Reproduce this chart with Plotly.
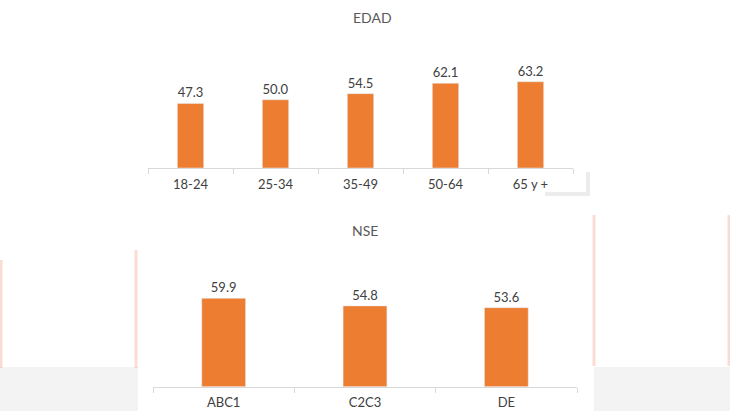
import plotly.graph_objects as go

# EDAD
edad_cats = ["18-24", "25-34", "35-49", "50-64", "65 y +"]
edad_vals = [47.3, 50.0, 54.5, 62.1, 63.2]

# NSE
nse_cats = ["ABC1", "C2C3", "DE"]
nse_vals = [59.9, 54.8, 53.6]

orange = "#ED7D31"
txt = "#404040"
font_family = "Lato, 'Open Sans', sans-serif"

W, H = 730, 411


def px(x):
    return x / W


def py(y):
    return 1 - y / H


fig = go.Figure()

fig.add_trace(go.Bar(
    x=edad_cats, y=edad_vals, marker_color=orange, width=0.31,
    texttemplate="%{y:.1f}", textposition="outside", cliponaxis=False,
    textfont=dict(size=13, color=txt), xaxis="x", yaxis="y",
))
fig.add_trace(go.Bar(
    x=nse_cats, y=nse_vals, marker_color=orange, width=0.31,
    texttemplate="%{y:.1f}", textposition="outside", cliponaxis=False,
    textfont=dict(size=13, color=txt), xaxis="x2", yaxis="y2",
))

xax = dict(
    type="category", showgrid=False, zeroline=False,
    showline=True, linecolor="#d9d9d9", linewidth=1,
    ticks="outside", tickson="boundaries", ticklen=5, tickcolor="#d9d9d9",
    ticklabelstandoff=4,
    tickfont=dict(size=13, color=txt), fixedrange=True,
)
yax = dict(visible=False, showgrid=False, zeroline=False, fixedrange=True)

blush = "rgba(240,130,100,0.28)"

# background decoration (blurred slide behind the charts)
shapes = [
    dict(type="rect", xref="paper", yref="paper", x0=0, x1=px(138), y0=0, y1=py(367),
         fillcolor="#f3f3f3", line_width=0, layer="below"),
    dict(type="rect", xref="paper", yref="paper", x0=px(594), x1=1, y0=0, y1=py(367),
         fillcolor="#f3f3f3", line_width=0, layer="below"),
    dict(type="line", xref="paper", yref="paper", x0=px(136), x1=px(136),
         y0=py(368), y1=py(250), line=dict(color=blush, width=3), layer="below"),
    dict(type="line", xref="paper", yref="paper", x0=px(594), x1=px(594),
         y0=py(366), y1=py(215), line=dict(color=blush, width=3), layer="below"),
    dict(type="line", xref="paper", yref="paper", x0=px(1), x1=px(1),
         y0=py(368), y1=py(260), line=dict(color=blush, width=3), layer="below"),
    dict(type="line", xref="paper", yref="paper", x0=px(729), x1=px(729),
         y0=py(366), y1=py(215), line=dict(color=blush, width=3), layer="below"),
    # shadow of the upper chart box
    dict(type="rect", xref="paper", yref="paper", x0=px(545), x1=px(590),
         y0=py(196), y1=py(192), fillcolor="#ececec", line_width=0, layer="below"),
    dict(type="rect", xref="paper", yref="paper", x0=px(586), x1=px(590),
         y0=py(196), y1=py(172), fillcolor="#ececec", line_width=0, layer="below"),
]

fig.update_layout(
    width=W, height=H,
    margin=dict(l=0, r=0, t=0, b=0),
    paper_bgcolor="white", plot_bgcolor="rgba(0,0,0,0)",
    font=dict(family=font_family, color=txt),
    showlegend=False,
    xaxis=dict(xax, domain=[px(148), px(573)], anchor="y"),
    yaxis=dict(yax, domain=[py(168), py(40)], range=[0, 93.8], anchor="x"),
    xaxis2=dict(xax, domain=[px(153), px(577)], anchor="y2"),
    yaxis2=dict(yax, domain=[py(386.7), py(250)], range=[0, 92.7], anchor="x2"),
    shapes=shapes,
    annotations=[
        dict(text="EDAD", x=px(372), y=py(18), xref="paper", yref="paper",
             xanchor="center", yanchor="middle",
             showarrow=False, font=dict(size=14, color="#595959")),
        dict(text="NSE", x=px(365), y=py(230), xref="paper", yref="paper",
             xanchor="center", yanchor="middle",
             showarrow=False, font=dict(size=14, color="#595959")),
    ],
)

fig.write_html("out.html", config={"displayModeBar": False},
               post_script="document.body.style.margin='0';")
